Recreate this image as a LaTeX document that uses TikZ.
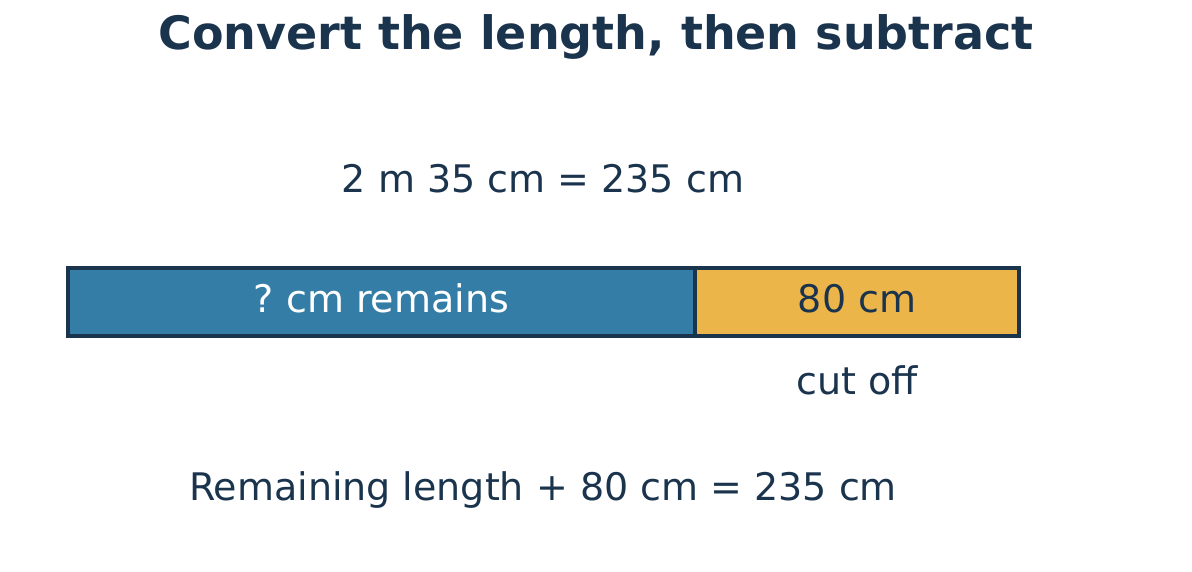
\documentclass[tikz,border=0pt]{standalone}
\usepackage{fontspec}
\setmainfont{DejaVu Sans}
\usetikzlibrary{positioning}
\frenchspacing
\definecolor{navy}{HTML}{1B344D}
\definecolor{barblue}{HTML}{337DA6}
\definecolor{baryellow}{HTML}{ECB54A}
\tikzset{
  seg/.style = {draw = navy, line width = 4pt, minimum height = 68pt, inner sep = 0pt, text height = 21pt, text depth = 0pt},
  txt/.style = {text = navy, anchor = base, inner sep = 0pt}
}

\begin{document}
\begin{tikzpicture}[x = 1pt, y = -1pt, font = {\fontsize{38}{45}\selectfont}]
\useasboundingbox (0,0) rectangle (1192, 572);

\node[txt, font = {\fontsize{46}{54}\selectfont\bfseries}] (TITLE) at (596, 50) {Convert the length, then subtract};

\node[txt] (CONV) at (543, 193) {2 m 35 cm = 235 cm};

\node[seg, fill = barblue, text = white, minimum width = 627pt] (REM) at (381.5, 302) {\frenchspacing ? cm remains};
\node[seg, fill = baryellow, text = navy, minimum width = 324pt] (CUT) at (857, 302) {80 cm};

\node[txt] (CUTLBL) at (857, 394) {cut off};

\node[txt] (EQN) at (543, 500) {Remaining length + 80 cm = 235 cm};
\end{tikzpicture}
\end{document}
